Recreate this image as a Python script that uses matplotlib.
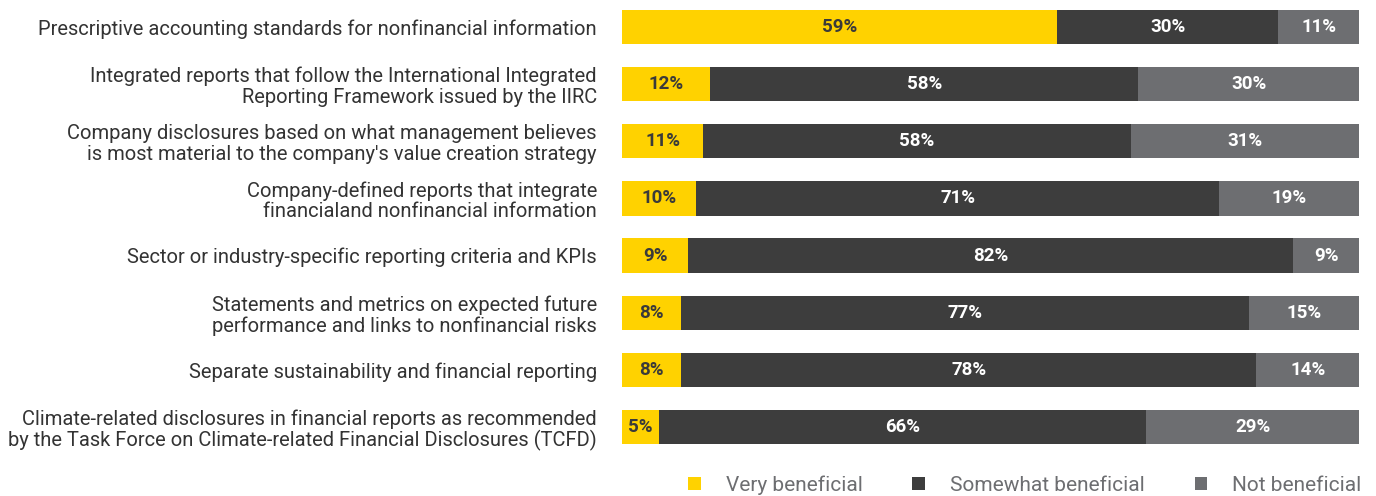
import numpy as np
import matplotlib.pyplot as plt
from matplotlib.patches import Patch

plt.rcParams['font.family'] = ['Roboto', 'DejaVu Sans']

categories = [
    "Prescriptive accounting standards for nonfinancial information",
    "Integrated reports that follow the International Integrated\nReporting Framework issued by the IIRC",
    "Company disclosures based on what management believes\nis most material to the company's value creation strategy",
    "Company-defined reports that integrate\nfinancialand nonfinancial information",
    "Sector or industry-specific reporting criteria and KPIs",
    "Statements and metrics on expected future\nperformance and links to nonfinancial risks",
    "Separate sustainability and financial reporting",
    "Climate-related disclosures in financial reports as recommended\nby the Task Force on Climate-related Financial Disclosures (TCFD)",
]
very = [59, 12, 11, 10, 9, 8, 8, 5]
somewhat = [30, 58, 58, 71, 82, 77, 78, 66]
not_ben = [11, 30, 31, 19, 9, 15, 14, 29]

series = ["Very beneficial", "Somewhat beneficial", "Not beneficial"]
colors = ["#FFD200", "#3D3D3D", "#6D6E71"]
text_colors = ["#3A3A3A", "white", "white"]

fig = plt.figure(figsize=(13.76, 4.96), dpi=100)
ax = fig.add_axes([0.452, 1 - 455 / 496, 0.536, 455 / 496])

y = np.arange(len(categories))
left = np.zeros(len(categories))
for vals, col, tc in zip([very, somewhat, not_ben], colors, text_colors):
    vals = np.array(vals)
    ax.barh(y, vals, left=left, height=0.6, color=col)
    for yi, l, v in zip(y, left, vals):
        ax.text(l + v / 2, yi, f"{v}%", ha='center', va='center',
                color=tc, fontsize=13.5, fontweight='bold')
    left += vals

ax.set_xlim(0, 100)
ax.set_ylim(7.49, -0.4725)
ax.set_yticks(y)
ax.set_yticklabels(categories, fontsize=14.5, color="#333333", linespacing=1.1)
ax.tick_params(axis='y', length=0, pad=18)
ax.set_xticks([])
for s in ax.spines.values():
    s.set_visible(False)

handles = [Patch(facecolor=c, edgecolor='none') for c in colors]
fig.legend(handles, series, loc='lower right', bbox_to_anchor=(1.003, -0.035),
           ncol=3, frameon=False, fontsize=15, labelcolor="#6D6E71",
           handlelength=0.6, handleheight=0.6, columnspacing=2.4, handletextpad=1.2)

fig.savefig("out.png", dpi=100)
